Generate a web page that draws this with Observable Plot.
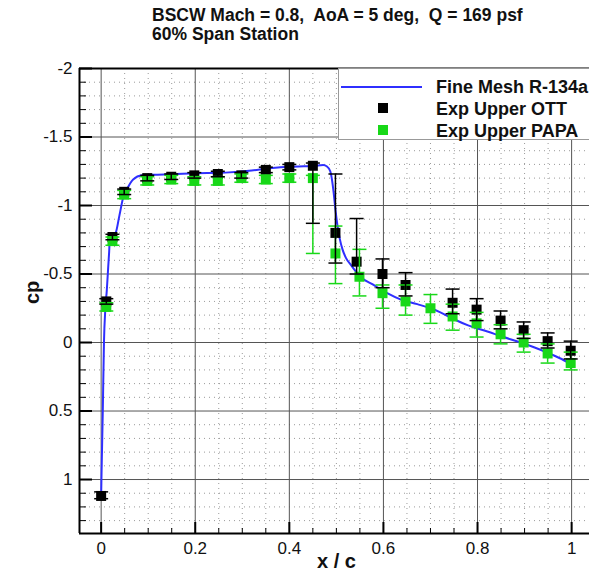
<!DOCTYPE html>
<html><head><meta charset="utf-8">
<script src="https://cdn.jsdelivr.net/npm/d3@7"></script>
<script src="https://cdn.jsdelivr.net/npm/@observablehq/plot@0.6"></script>
<style>
body{margin:0;background:#fff;}
#wrap{position:relative;width:589px;height:576px;overflow:hidden;font-family:"Liberation Sans",Arial,Helvetica,sans-serif;}
#title{position:absolute;left:152px;top:6px;font-weight:bold;font-size:17.5px;line-height:19px;color:#111;white-space:nowrap;}
#chart{position:absolute;left:0;top:0;}
#legend{position:absolute;left:338px;top:68px;width:280px;height:72px;background:#fff;border:1.5px solid #999;box-sizing:border-box;}
#legend .t{position:absolute;left:97px;height:22px;line-height:22px;font-weight:bold;font-size:18px;color:#111;white-space:nowrap;}
#legend .ln{position:absolute;left:2px;top:17px;width:81px;height:2px;}
#legend .sq{position:absolute;left:39px;width:10px;height:10px;}
</style></head>
<body>
<div id="wrap">
  <div id="chart"></div>
  <div id="title"></div>
  <div id="legend"></div>
</div>
<script>
// ---- titles ----
const titleLines = ["BSCW Mach = 0.8,\u00a0 AoA = 5 deg,\u00a0 Q = 169 psf", "60% Span Station"];
const xLabel = "x / c";
const yLabel = "cp";

// ---- legend ----
const seriesNames = ["Fine Mesh R-134a", "Exp Upper OTT", "Exp Upper PAPA"];
const seriesColors = ["#2f2fff", "#000000", "#18d818"];

// ---- ticks ----
const xTicks = [0, 0.2, 0.4, 0.6, 0.8, 1];
const xTickLabels = ["0", "0.2", "0.4", "0.6", "0.8", "1"];
const yTicks = [-2, -1.5, -1, -0.5, 0, 0.5, 1];
const yTickLabels = ["-2", "-1.5", "-1", "-0.5", "0", "0.5", "1"];
const xMinorTicks = [0.05,0.1,0.15,0.25,0.3,0.35,0.45,0.5,0.55,0.65,0.7,0.75,0.85,0.9,0.95];
const yMinorTicks = [-1.9,-1.8,-1.7,-1.6,-1.4,-1.3,-1.2,-1.1,-0.9,-0.8,-0.7,-0.6,-0.4,-0.3,-0.2,-0.1,0.1,0.2,0.3,0.4,0.6,0.7,0.8,0.9,1.1,1.2,1.3];

// ---- CFD: Fine Mesh R-134a ----
const cfdX = [0, 0.0006, 0.0035, 0.006, 0.009, 0.012, 0.015, 0.017, 0.019, 0.024, 0.031, 0.039, 0.047, 0.055, 0.068, 0.087, 0.12, 0.2, 0.264, 0.32, 0.353, 0.381, 0.42, 0.455, 0.472, 0.480, 0.487, 0.491, 0.494, 0.498, 0.502, 0.507, 0.513, 0.52, 0.53, 0.551, 0.579, 0.608, 0.636, 0.672, 0.70, 0.721, 0.75, 0.78, 0.821, 0.855, 0.892, 0.92, 0.949, 0.975, 0.995];
const cfdCp = [1.12, 1.0, 0.5, 0.0, -0.25, -0.38, -0.55, -0.66, -0.80, -0.77, -0.80, -0.93, -1.06, -1.12, -1.19, -1.22, -1.225, -1.235, -1.24, -1.255, -1.27, -1.28, -1.285, -1.29, -1.295, -1.285, -1.25, -1.18, -1.10, -0.97, -0.86, -0.76, -0.68, -0.62, -0.57, -0.48, -0.42, -0.36, -0.315, -0.28, -0.25, -0.22, -0.17, -0.125, -0.08, -0.04, 0.0, 0.035, 0.075, 0.115, 0.15];

// ---- Exp Upper OTT ----
const ottX  = [0, 0.011, 0.024, 0.049, 0.098, 0.149, 0.198, 0.248, 0.298, 0.35, 0.40, 0.45, 0.498, 0.543, 0.598, 0.647, 0.747, 0.798, 0.849, 0.898, 0.949, 0.998];
const ottCp = [1.12, -0.30, -0.77, -1.10, -1.20, -1.21, -1.22, -1.23, -1.22, -1.26, -1.28, -1.29, -0.80, -0.59, -0.50, -0.42, -0.29, -0.24, -0.16, -0.09, -0.01, 0.06];
const ottLo = [1.09, -0.32, -0.79, -1.12, -1.22, -1.23, -1.24, -1.25, -1.24, -1.28, -1.30, -1.31, -1.23, -0.905, -0.61, -0.51, -0.39, -0.32, -0.23, -0.15, -0.07, -0.01];
const ottHi = [1.14, -0.28, -0.75, -1.08, -1.18, -1.19, -1.20, -1.21, -1.20, -1.24, -1.26, -0.87, -0.58, -0.50, -0.40, -0.34, -0.21, -0.16, -0.10, -0.03, 0.04, 0.12];

// ---- Exp Upper PAPA ----
const papaX  = [0.011, 0.024, 0.049, 0.098, 0.149, 0.198, 0.248, 0.298, 0.35, 0.40, 0.45, 0.498, 0.549, 0.598, 0.647, 0.70, 0.747, 0.798, 0.849, 0.898, 0.949, 0.998];
const papaCp = [-0.26, -0.74, -1.08, -1.18, -1.19, -1.18, -1.18, -1.20, -1.19, -1.20, -1.20, -0.65, -0.48, -0.36, -0.30, -0.25, -0.19, -0.14, -0.06, 0.0, 0.08, 0.15];
const papaLo = [-0.29, -0.77, -1.11, -1.21, -1.22, -1.21, -1.21, -1.23, -1.22, -1.23, -1.22, -0.85, -0.68, -0.42, -0.42, -0.35, -0.28, -0.22, -0.13, -0.06, 0.01, 0.07];
const papaHi = [-0.23, -0.71, -1.05, -1.15, -1.16, -1.15, -1.15, -1.17, -1.16, -1.17, -0.65, -0.43, -0.34, -0.25, -0.20, -0.14, -0.09, -0.04, 0.01, 0.07, 0.15, 0.20];

const cfd = cfdX.map((x, i) => ({x, cp: cfdCp[i]}));
const ott = ottX.map((x, i) => ({x, cp: ottCp[i], lo: ottLo[i], hi: ottHi[i]}));
const papa = papaX.map((x, i) => ({x, cp: papaCp[i], lo: papaLo[i], hi: papaHi[i]}));

const xDomain = [-0.046, 1.038];
const yDomain = [1.394, -2];

const W = 589, H = 576, mT = 68, mB = 43, mL = 79, mR = 0;
const fw = W - mL - mR, fh = H - mT - mB;

const cap = {draw(ctx, size) { const r = Math.sqrt(size / Math.PI); ctx.moveTo(-r, 0); ctx.lineTo(r, 0); }};
const square = {draw(ctx, size) { const r = Math.sqrt(size / Math.PI); ctx.rect(-r, -r, 2 * r, 2 * r); }};
const font = '"Liberation Sans", Arial, Helvetica, sans-serif';

const chart = Plot.plot({
  width: W, height: H, marginTop: mT, marginBottom: mB, marginLeft: mL, marginRight: mR,
  style: {fontFamily: font, fontSize: "17px", color: "#111", background: "transparent", overflow: "visible"},
  x: {domain: xDomain},
  y: {domain: yDomain},
  marks: [
    Plot.ruleX(xMinorTicks, {x: d => d, stroke: "#9a9a9a", strokeDasharray: "1,4", strokeWidth: 1}),
    Plot.ruleY(yMinorTicks, {y: d => d, stroke: "#9a9a9a", strokeDasharray: "1,4", strokeWidth: 1}),
    Plot.ruleX(xTicks, {x: d => d, stroke: "#555", strokeWidth: 1}),
    Plot.ruleY(yTicks, {y: d => d, stroke: "#555", strokeWidth: 1}),
    Plot.tickY(yTicks, {y: d => d, stroke: "#000", strokeWidth: 2, insetRight: fw - 13}),
    Plot.tickY(yMinorTicks, {y: d => d, stroke: "#000", strokeWidth: 1, insetRight: fw - 7}),
    Plot.tickX(xTicks, {x: d => d, stroke: "#000", strokeWidth: 2, insetTop: fh - 11}),
    Plot.tickX(xMinorTicks, {x: d => d, stroke: "#000", strokeWidth: 1, insetTop: fh - 5}),
    Plot.ruleX([xDomain[0]], {stroke: "#000", strokeWidth: 2}),
    Plot.ruleY([yDomain[0], yDomain[1]], {stroke: "#000", strokeWidth: 2}),
    Plot.line(cfd, {x: "x", y: "cp", stroke: seriesColors[0], strokeWidth: 2, curve: "monotone-x"}),
    Plot.dot(ott, {x: "x", y: "cp", symbol: square, r: 5, fill: seriesColors[1], stroke: "none"}),
    Plot.dot(papa, {x: "x", y: "cp", symbol: square, r: 5, fill: seriesColors[2], stroke: "none"}),
    Plot.ruleX(papa, {x: "x", y1: "lo", y2: "hi", stroke: seriesColors[2], strokeWidth: 1.5}),
    Plot.dot(papa, {x: "x", y: "lo", symbol: cap, r: 7, stroke: seriesColors[2], strokeWidth: 1.5, fill: "none"}),
    Plot.dot(papa, {x: "x", y: "hi", symbol: cap, r: 7, stroke: seriesColors[2], strokeWidth: 1.5, fill: "none"}),
    Plot.ruleX(ott, {x: "x", y1: "lo", y2: "hi", stroke: seriesColors[1], strokeWidth: 1.5}),
    Plot.dot(ott, {x: "x", y: "lo", symbol: cap, r: 7, stroke: seriesColors[1], strokeWidth: 1.5, fill: "none"}),
    Plot.dot(ott, {x: "x", y: "hi", symbol: cap, r: 7, stroke: seriesColors[1], strokeWidth: 1.5, fill: "none"}),
    Plot.axisY(yTicks, {tickSize: 0, tickPadding: 7, label: null, tickFormat: d => yTickLabels[yTicks.indexOf(d)], fontSize: 17}),
    Plot.axisX(xTicks, {tickSize: 0, tickPadding: 8, label: null, tickFormat: d => xTickLabels[xTicks.indexOf(d)], fontSize: 17}),
    Plot.text([xLabel], {frameAnchor: "bottom", dy: 34, dx: 2, text: d => d, fontWeight: "bold", fontSize: 20, fill: "#111"}),
    Plot.text([yLabel], {frameAnchor: "left", dx: -47, dy: 3, rotate: -90, text: d => d, fontWeight: "bold", fontSize: 20, fill: "#111"})
  ]
});
document.getElementById("chart").appendChild(chart);

document.getElementById("title").innerHTML = titleLines.join("<br>");

const lg = document.getElementById("legend");
const tops = [7, 29, 51];
const sqTops = [34, 56];
lg.innerHTML =
  `<div class="ln" style="background:${seriesColors[0]}"></div>` +
  `<div class="sq" style="top:${sqTops[0]}px;background:${seriesColors[1]}"></div>` +
  `<div class="sq" style="top:${sqTops[1]}px;background:${seriesColors[2]}"></div>` +
  seriesNames.map((n, i) => `<div class="t" style="top:${tops[i]}px">${n}</div>`).join("");
</script>
</body></html>
